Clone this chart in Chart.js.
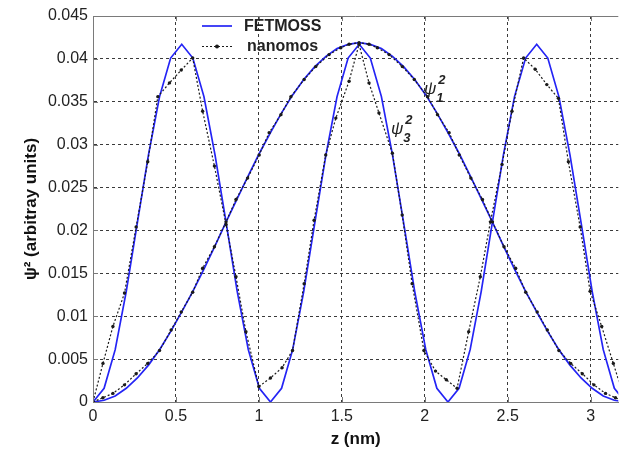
<!DOCTYPE html>
<html><head><meta charset="utf-8">
<script src="https://cdn.jsdelivr.net/npm/chart.js@4"></script>
<style>html,body{margin:0;padding:0;background:#fff;}canvas{display:block;}</style>
</head><body>
<canvas id="c" width="620" height="454"></canvas>
<script>
// ---- data ----
const zFetmoss = [0, 0.0669, 0.1338, 0.2006, 0.2675, 0.3344, 0.4013, 0.4681, 0.535, 0.6019, 0.6688, 0.7356, 0.8025, 0.8694, 0.9363, 1.0031, 1.07, 1.1369, 1.2038, 1.2706, 1.3375, 1.4044, 1.4713, 1.5381, 1.605, 1.6719, 1.7388, 1.8056, 1.8725, 1.9394, 2.0063, 2.0731, 2.14, 2.2069, 2.2738, 2.3406, 2.4075, 2.4744, 2.5413, 2.6081, 2.675, 2.7419, 2.8088, 2.8756, 2.9425, 3.0094, 3.0763, 3.1431, 3.21];
const psi1Fetmoss = [0, 0.0002, 0.0007, 0.0016, 0.0028, 0.0043, 0.0061, 0.0082, 0.0105, 0.0129, 0.0155, 0.0182, 0.0210, 0.0237, 0.0264, 0.0290, 0.0314, 0.0337, 0.0358, 0.0376, 0.0391, 0.0403, 0.0412, 0.0417, 0.0419, 0.0417, 0.0412, 0.0403, 0.0391, 0.0376, 0.0358, 0.0337, 0.0314, 0.0290, 0.0264, 0.0237, 0.0210, 0.0182, 0.0155, 0.0129, 0.0105, 0.0082, 0.0061, 0.0043, 0.0028, 0.0016, 0.0007, 0.0002, 0];
const psi3Fetmoss = [0, 0.0016, 0.0061, 0.0129, 0.0209, 0.0288, 0.0356, 0.0401, 0.0417, 0.0401, 0.0356, 0.0288, 0.0209, 0.0129, 0.0061, 0.0016,
                     0, 0.0016, 0.0061, 0.0129, 0.0209, 0.0288, 0.0356, 0.0401, 0.0417, 0.0401, 0.0356, 0.0288, 0.0209, 0.0129, 0.0061, 0.0016,
                     0, 0.0016, 0.0061, 0.0129, 0.0209, 0.0288, 0.0356, 0.0401, 0.0417, 0.0401, 0.0356, 0.0288, 0.0209, 0.0129, 0.0061, 0.0016, 0];

const zNanomos1 = [0, 0.06, 0.12, 0.19, 0.26, 0.33, 0.401, 0.471, 0.532, 0.601, 0.661, 0.732, 0.802, 0.862, 0.932, 1.002, 1.062, 1.133, 1.193, 1.273, 1.343, 1.423, 1.494, 1.544, 1.604, 1.664, 1.714, 1.785, 1.865, 1.937, 2.017, 2.077, 2.147, 2.208, 2.278, 2.348, 2.408, 2.478, 2.548, 2.609, 2.678, 2.739, 2.809, 2.88, 2.95, 3.02, 3.09, 3.15, 3.21];
const psi1Nanomos = [0, 0.0005, 0.001, 0.002, 0.0033, 0.0045, 0.006, 0.0084, 0.0105, 0.0128, 0.0156, 0.0181, 0.021, 0.0236, 0.0261, 0.0288, 0.0314, 0.0335, 0.0356, 0.0376, 0.0391, 0.0405, 0.0413, 0.0417, 0.0419, 0.0417, 0.0413, 0.0405, 0.0391, 0.0376, 0.0356, 0.0335, 0.0314, 0.0288, 0.0261, 0.0236, 0.021, 0.0181, 0.0156, 0.0128, 0.0105, 0.0084, 0.006, 0.0045, 0.0033, 0.002, 0.001, 0.0005, 0];

const zNanomos3 = [0, 0.06, 0.12, 0.19, 0.26, 0.33, 0.391, 0.461, 0.532, 0.601, 0.661, 0.732, 0.802, 0.862, 0.922, 1.0, 1.07, 1.14, 1.203, 1.273, 1.333, 1.403, 1.464, 1.544, 1.604, 1.664, 1.724, 1.805, 1.864, 1.924, 1.995, 2.065, 2.13, 2.195, 2.265, 2.335, 2.396, 2.466, 2.526, 2.596, 2.666, 2.736, 2.806, 2.866, 2.937, 2.997, 3.067, 3.137, 3.21];
const psi3Nanomos = [0, 0.0045, 0.0088, 0.0127, 0.0204, 0.028, 0.0356, 0.0372, 0.0387, 0.0401, 0.0339, 0.0275, 0.0207, 0.0146, 0.0082, 0.0018, 0.0028, 0.004, 0.006, 0.0138, 0.0212, 0.0288, 0.0331, 0.0374, 0.0417, 0.0372, 0.0337, 0.029, 0.0218, 0.0138, 0.006, 0.0036, 0.0026, 0.0016, 0.0082, 0.0146, 0.021, 0.0277, 0.0339, 0.0401, 0.0388, 0.037, 0.0354, 0.028, 0.0204, 0.0129, 0.0088, 0.0045, 0];

const xTickValues = [0, 0.5, 1, 1.5, 2, 2.5, 3];
const xTickLabels = ['0', '0.5', '1', '1.5', '2', '2.5', '3'];
const yTickValues = [0, 0.005, 0.01, 0.015, 0.02, 0.025, 0.03, 0.035, 0.04, 0.045];
const yTickLabels = ['0', '0.005', '0.01', '0.015', '0.02', '0.025', '0.03', '0.035', '0.04', '0.045'];
const seriesNames = ['FETMOSS', 'nanomos'];
const xTitle = 'z (nm)';
const yTitle = 'ψ² (arbitray units)';
const curveLabels = [
  {main: 'ψ', sup: '2', sub: '1', x: 1.995, y: 0.0359},
  {main: 'ψ', sup: '2', sub: '3', x: 1.796, y: 0.0313}
];

// ---- styling ----
const FONT = "'Liberation Sans', Arial, sans-serif";
const BLUE = '#2424f5';
const BLACK = '#1a1a1a';
Chart.defaults.font.family = FONT;

const pts = (xs, ys) => xs.map((x, i) => ({x: x, y: ys[i]}));

const blueStyle = {borderColor: BLUE, borderWidth: 1.7, pointRadius: 0, tension: 0, fill: false, order: 2};
const blackStyle = {borderColor: BLACK, borderWidth: 1.2, borderDash: [2, 2], pointRadius: 1.7,
  pointBackgroundColor: BLACK, pointBorderWidth: 0, pointHoverRadius: 0, tension: 0, fill: false, order: 1};

const framePlugin = {
  id: 'frame',
  afterDraw(chart) {
    const {ctx, chartArea: a, scales: {x, y}} = chart;
    ctx.save();
    ctx.strokeStyle = '#7a7a7a';
    ctx.lineWidth = 1;
    ctx.beginPath();
    ctx.moveTo(a.left, Math.round(a.top) + 0.5);
    ctx.lineTo(a.right, Math.round(a.top) + 0.5);
    xTickValues.forEach(v => {
      const px = Math.round(x.getPixelForValue(v)) + 0.5;
      ctx.moveTo(px, a.bottom); ctx.lineTo(px, a.bottom - 5);
      ctx.moveTo(px, a.top); ctx.lineTo(px, a.top + 5);
    });
    yTickValues.forEach(v => {
      const py = Math.round(y.getPixelForValue(v)) + 0.5;
      ctx.moveTo(a.left, py); ctx.lineTo(a.left + 5, py);
    });
    ctx.stroke();

    // legend
    const lx0 = 202, lx1 = 232, ty = 26, dy = 20.5, tx = 244;
    ctx.setLineDash([]);
    ctx.strokeStyle = BLUE; ctx.lineWidth = 1.7;
    ctx.beginPath(); ctx.moveTo(lx0, ty); ctx.lineTo(lx1, ty); ctx.stroke();
    ctx.strokeStyle = BLACK; ctx.lineWidth = 1.2; ctx.setLineDash([2, 2]);
    ctx.beginPath(); ctx.moveTo(lx0, ty + dy); ctx.lineTo(lx1, ty + dy); ctx.stroke();
    ctx.setLineDash([]);
    ctx.fillStyle = BLACK;
    ctx.beginPath(); ctx.arc((lx0 + lx1) / 2, ty + dy, 2, 0, Math.PI * 2); ctx.fill();
    ctx.font = 'bold 16px ' + FONT;
    ctx.textBaseline = 'middle'; ctx.textAlign = 'left';
    ctx.fillStyle = '#222';
    ctx.fillText(seriesNames[0], tx, ty + 1);
    ctx.fillText(seriesNames[1], tx + 3, ty + dy);

    // curve labels
    curveLabels.forEach(l => {
      const px = x.getPixelForValue(l.x), py = y.getPixelForValue(l.y);
      ctx.textBaseline = 'alphabetic';
      ctx.font = 'italic 17px ' + FONT;
      ctx.fillText(l.main, px, py);
      const w = ctx.measureText(l.main).width;
      ctx.font = 'italic bold 13px ' + FONT;
      ctx.fillText(l.sup, px + w + 2, py - 10);
      ctx.fillText(l.sub, px + w, py + 8);
    });
    ctx.restore();
  }
};

const gridColor = (ctx) => (ctx.tick && (ctx.tick.value === 0 || Math.abs(ctx.tick.value - 0.045) < 1e-9)) ? 'rgba(0,0,0,0)' : '#3a3a3a';

new Chart(document.getElementById('c'), {
  type: 'line',
  data: {
    datasets: [
      Object.assign({label: seriesNames[0], data: pts(zFetmoss, psi1Fetmoss)}, blueStyle),
      Object.assign({label: seriesNames[0] + ' ψ3', data: pts(zFetmoss, psi3Fetmoss)}, blueStyle),
      Object.assign({label: seriesNames[1], data: pts(zNanomos1, psi1Nanomos)}, blackStyle),
      Object.assign({label: seriesNames[1] + ' ψ3', data: pts(zNanomos3, psi3Nanomos)}, blackStyle)
    ]
  },
  options: {
    responsive: false,
    animation: false,
    devicePixelRatio: 1,
    layout: {padding: {top: 16, right: 0, bottom: 0, left: 0}},
    plugins: {legend: {display: false}, tooltip: {enabled: false}},
    scales: {
      x: {
        type: 'linear', min: 0, max: 3.167,
        afterBuildTicks: s => { s.ticks = xTickValues.map(v => ({value: v})); },
        afterFit: s => { s.height = 52; },
        ticks: {includeBounds: false, padding: 5, color: '#222', font: {size: 16},
          callback: (v, i) => xTickLabels[i], maxRotation: 0, autoSkip: false},
        grid: {color: gridColor, drawTicks: false, lineWidth: 1},
        border: {display: true, color: '#7a7a7a', width: 1, dash: [3, 3]},
        title: {display: true, text: xTitle, color: '#111', font: {size: 17, weight: 'bold'}, padding: {top: 0, bottom: 4}}
      },
      y: {
        type: 'linear', min: 0, max: 0.045,
        afterBuildTicks: s => { s.ticks = yTickValues.map(v => ({value: v})); },
        afterFit: s => { s.width = 93; },
        ticks: {padding: 5, color: '#222', font: {size: 16},
          callback: (v, i) => yTickLabels[i], autoSkip: false},
        grid: {color: gridColor, drawTicks: false, lineWidth: 1},
        border: {display: true, color: '#7a7a7a', width: 1, dash: [3, 3]},
        title: {display: true, text: yTitle, color: '#111', font: {size: 17, weight: 'bold'}, padding: {top: 21, bottom: 0}}
      }
    }
  },
  plugins: [framePlugin]
});
</script>
</body></html>
